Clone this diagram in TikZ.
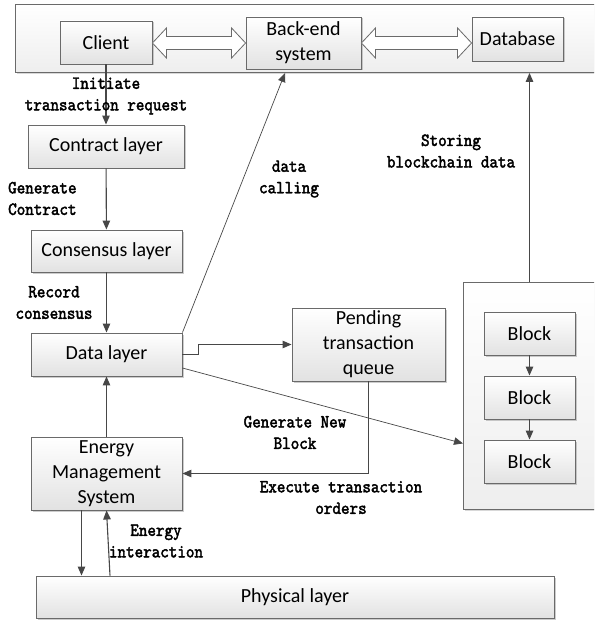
\documentclass[tikz,border=0pt]{standalone}
\usepackage{fontspec}
\setmainfont{Carlito}
\newfontfamily\lblfont{lmmono10-regular.otf}[FakeBold=2.2,FakeStretch=0.88]
\usetikzlibrary{calc,shadows,arrows.meta}

\definecolor{boxline}{HTML}{6A6A6A}
\definecolor{boxfill}{HTML}{E2E2E2}
\definecolor{panelfill}{HTML}{EEEEEE}
\definecolor{arrline}{HTML}{474747}

\tikzset{
  box/.style={draw=boxline, line width=0.9pt, top color=white, bottom color=boxfill,
    drop shadow={shadow xshift=1.5pt, shadow yshift=-1.5pt, fill=black!40, opacity=0.5},
    align=center, inner sep=0pt, font=\fontsize{20}{25}\selectfont},
  panel/.style={draw=boxline, line width=0.9pt, top color=white, bottom color=panelfill,
    drop shadow={shadow xshift=1.5pt, shadow yshift=-1.5pt, fill=black!30, opacity=0.5},
    inner sep=0pt},
  lbl/.style={align=center, inner sep=0pt, font=\lblfont\fontsize{18.5}{21.5}\selectfont},
  arr/.style={draw=arrline, line width=1.1pt, -{Triangle[length=9pt,width=7.5pt]}},
  thinarr/.style={arr, line width=0.7pt},
  hollow/.style={draw=boxline, line width=0.8pt, fill=white, line join=miter},
}

\newcommand\hollowlink[2]{%
  \draw[hollow] (#1) -- ++(14,-15) -- ++(0,8.5) -- ($(#2)+(-14,-6.5)$) -- ++(0,-8.5)
    -- (#2) -- ++(-14,15) -- ++(0,-8.5) -- ($(#1)+(14,6.5)$) -- ++(0,8.5) -- cycle;}

\begin{document}
\begin{tikzpicture}[x=1pt,y=-1pt]
  \useasboundingbox (0,0) rectangle (594,620);
  \clip (0,0) rectangle (594,620);

  \node[panel, minimum width=620pt, minimum height=68pt, anchor=north west] (strip) at (15,4) {};
  \node[panel, minimum width=160pt, minimum height=227pt, anchor=north west] (chain) at (463,282) {};

  \node[box, minimum width=92pt, minimum height=43pt] (client) at (106,42.5) {Client};
  \node[box, minimum width=115pt, minimum height=52pt] (backend) at (303.5,43) {Back-end\\system};
  \node[box, minimum width=91pt, minimum height=44pt] (database) at (517.5,39) {Database};

  \node[box, minimum width=156pt, minimum height=43pt] (contract) at (106,146.5) {Contract layer};
  \node[box, minimum width=151pt, minimum height=42pt] (consensus) at (106.5,251) {Consensus layer};
  \node[box, minimum width=151pt, minimum height=43pt] (datalayer) at (106.5,354.5) {Data layer};
  \node[box, minimum width=151pt, minimum height=73pt] (ems) at (106.5,473.5) {Energy\\Management\\System};
  \node[box, minimum width=518pt, minimum height=42pt] (physical) at (295,597) {Physical layer};

  \node[box, minimum width=153pt, minimum height=73pt] (pending) at (368.5,344.5) {Pending\\transaction\\queue};

  \node[box, minimum width=91pt, minimum height=43pt] (block1) at (529.5,333.5) {Block};
  \node[box, minimum width=91pt, minimum height=43pt] (block2) at (529.5,397.5) {Block};
  \node[box, minimum width=91pt, minimum height=43pt] (block3) at (529.5,461.5) {Block};

  \coordinate (cl) at (client.east |- backend.west);
  \coordinate (db) at (database.west |- backend.east);
  \hollowlink{cl}{backend.west}
  \hollowlink{backend.east}{db}

  \coordinate (callend) at (285,73);

  \draw[arr] (client) -- (contract);
  \draw[arr] (contract) -- (consensus);
  \draw[arr] (consensus) -- (datalayer);
  \draw[arr] (ems) -- (datalayer);
  \draw[thinarr] (datalayer.north east) -- (callend);
  \draw[arr] (datalayer.east) -- ++(16,0) |- (pending.west);
  \draw[thinarr] ([yshift=-13.5pt]datalayer.east) -- ([yshift=-47.5pt]chain.west);
  \draw[arr] (pending.south) |- (ems.east);
  \draw[arr] (block1.north |- chain.north) -- (block1.north |- strip.south);
  \draw[arr] (block1) -- (block2);
  \draw[arr] (block2) -- (block3);
  \draw[arr] ([xshift=-25pt]ems.south) -- ([xshift=-25pt]ems.south |- physical.north);
  \draw[arr] ($(ems.south |- physical.north)+(3.5,0)$) -- (ems.south);

  \node[lbl] (initiate) at (106,96) {Initiate\\transaction request};
  \node[lbl, align=left, anchor=west] (gencontract) at (8,198.5) {Generate\\Contract};
  \node[lbl] (record) at (54,302.5) {Record\\consensus};
  \node[lbl] (calling) at (289,179) {data\\calling};
  \node[lbl] (storing) at (451,151) {Storing\\blockchain data};
  \node[lbl] (newblock) at (295,432.5) {Generate New\\Block};
  \node[lbl] (execute) at (341,497.5) {Execute transaction\\orders};
  \node[lbl] (interaction) at (156,541) {Energy\\interaction};
\end{tikzpicture}
\end{document}
